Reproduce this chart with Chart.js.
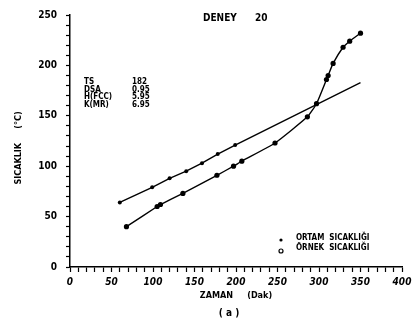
<!DOCTYPE html>
<html>
<head>
<meta charset="utf-8">
<script src="https://cdn.jsdelivr.net/npm/chart.js@4"></script>
<style>
  html, body { margin: 0; padding: 0; background: #fff; }
  #wrap { width: 416px; height: 330px; }
</style>
</head>
<body>
<div id="wrap"><canvas id="deneyChart" width="416" height="330"></canvas></div>
<script>
// DENEY 20 - ortam ve ornek sicakligi
var ortamZaman = [60, 99, 120, 140, 159, 178, 199, 350];
var ortamSicaklik = [64, 79, 88, 95, 103, 112, 121, 183];

var ornekZaman = [68, 105, 109, 136, 177, 197, 207, 247, 286, 297, 309, 311, 317, 329, 337, 350];
var ornekSicaklik = [40, 60, 62, 73, 91, 100, 105, 123, 149, 162, 186, 190, 202, 218, 224, 232];

var xTickLabels = [0, 50, 100, 150, 200, 250, 300, 350, 400];
var yTickLabels = [0, 50, 100, 150, 200, 250];

var bilgiEtiket = ['TS', 'DSA', 'H(FCC)', 'K(MR)'];
var bilgiDeger = ['182', '0.95', '5.95', '6.95'];

function toPoints(xs, ys) {
    return xs.map(function (x, i) { return { x: x, y: ys[i] }; });
}

var FONT = "'DejaVu Sans Condensed', 'DejaVu Sans', sans-serif";

var annotations = {
    id: 'annotations',
    afterDraw: function (chart) {
        var c = chart.ctx;
        c.save();
        c.fillStyle = '#000';
        c.textBaseline = 'middle';

        // title
        c.font = 'bold 10px ' + FONT;
        c.textAlign = 'left';
        c.fillText('DENEY', 203, 18);
        c.fillText('20', 255, 18);

        // info block
        c.font = 'bold 8px ' + FONT;
        for (var i = 0; i < bilgiEtiket.length; i++) {
            c.fillText(bilgiEtiket[i], 84, 82 + i * 7.6);
            c.fillText(bilgiDeger[i], 132, 82 + i * 7.6);
        }

        // legend
        c.beginPath();
        c.arc(281, 240, 1.6, 0, Math.PI * 2);
        c.fill();
        c.beginPath();
        c.lineWidth = 1.2;
        c.arc(281, 251, 2, 0, Math.PI * 2);
        c.stroke();
        c.font = 'bold 8px ' + FONT;
        c.fillText('ORTAM  SICAKLIĞI', 296, 238);
        c.fillText('ÖRNEK  SICAKLIĞI', 296, 248);

        // x axis title
        c.font = 'bold 9px ' + FONT;
        c.textAlign = 'center';
        c.fillText('ZAMAN     (Dak)', 236, 296);
        c.font = 'bold 10px ' + FONT;
        c.fillText('( a )', 229, 313);

        // y axis title
        c.translate(19, 148);
        c.rotate(-Math.PI / 2);
        c.font = 'bold 9px ' + FONT;
        c.fillText('SICAKLIK     (°C)', 0, 0);
        c.restore();
    }
};

document.addEventListener('DOMContentLoaded', function () {
    var ctx = document.getElementById('deneyChart').getContext('2d');
    var deneyChart = new Chart(ctx, {
        type: 'scatter',
        data: {
            datasets: [
                {
                    label: 'ORTAM SICAKLIĞI',
                    data: toPoints(ortamZaman, ortamSicaklik),
                    showLine: true,
                    borderColor: '#000',
                    backgroundColor: '#000',
                    borderWidth: 1.4,
                    pointRadius: function (c) {
                        return c.dataIndex === ortamZaman.length - 1 ? 0 : 2;
                    },
                    pointBorderWidth: 0,
                    tension: 0
                },
                {
                    label: 'ÖRNEK SICAKLIĞI',
                    data: toPoints(ornekZaman, ornekSicaklik),
                    showLine: true,
                    borderColor: '#000',
                    backgroundColor: '#000',
                    borderWidth: 1.4,
                    pointRadius: 2.6,
                    pointBorderWidth: 0,
                    tension: 0.15
                }
            ]
        },
        options: {
            responsive: false,
            animation: false,
            layout: { padding: { top: 14, right: 14, left: 0, bottom: 0 } },
            plugins: {
                legend: { display: false },
                tooltip: { enabled: false }
            },
            scales: {
                x: {
                    type: 'linear',
                    min: 0,
                    max: 400,
                    afterFit: function (s) { s.height = 63; },
                    ticks: {
                        stepSize: 10,
                        autoSkip: false,
                        maxRotation: 0,
                        padding: 4,
                        color: '#000',
                        font: { family: FONT, size: 10, style: 'italic', weight: 'bold' },
                        callback: function (v) { return xTickLabels.indexOf(v) >= 0 ? v : ''; }
                    },
                    grid: { drawOnChartArea: false, tickLength: 5, color: '#000', tickWidth: 1.2 },
                    border: { color: '#000', width: 1.5 }
                },
                y: {
                    min: 0,
                    max: 250,
                    afterFit: function (s) { s.width = 70; },
                    ticks: {
                        stepSize: 10,
                        autoSkip: false,
                        padding: 9,
                        color: '#000',
                        font: { family: FONT, size: 10, weight: 'bold' },
                        callback: function (v) { return yTickLabels.indexOf(v) >= 0 ? v : ''; }
                    },
                    grid: { drawOnChartArea: false, tickLength: 4, color: '#000', tickWidth: 1.2 },
                    border: { color: '#000', width: 1.5 }
                }
            }
        },
        plugins: [annotations]
    });
});
</script>
</body>
</html>
